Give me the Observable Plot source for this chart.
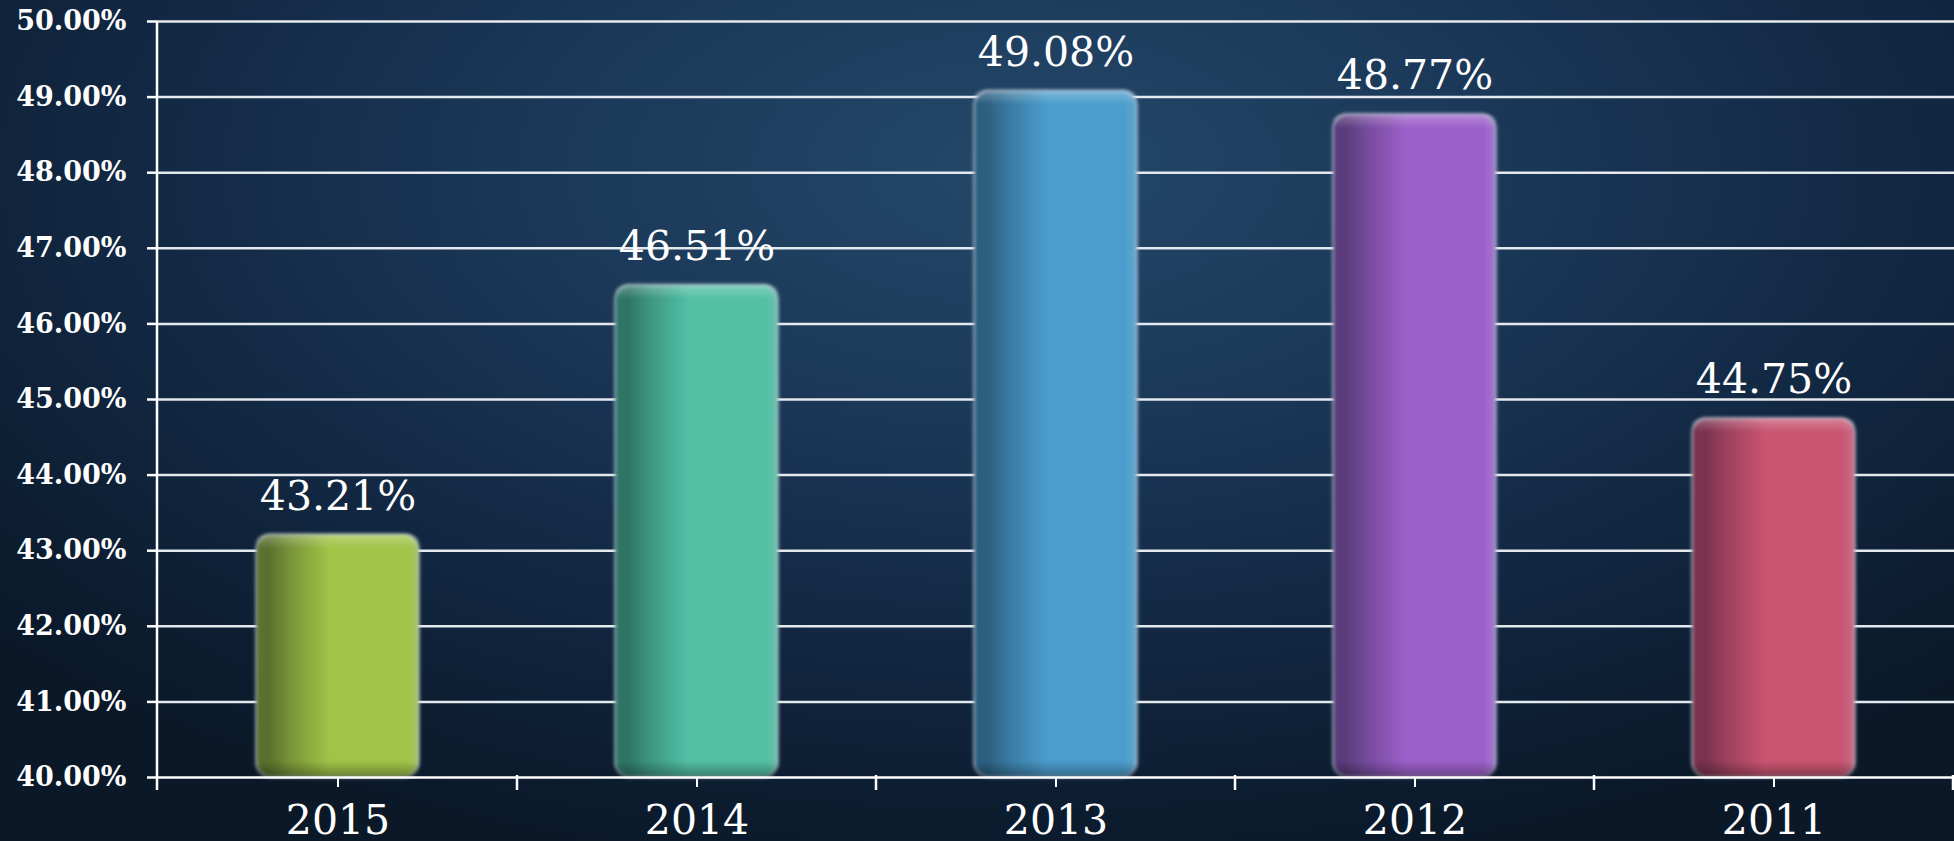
<!DOCTYPE html>
<html><head><meta charset="utf-8">
<script src="https://cdn.jsdelivr.net/npm/d3@7"></script>
<script src="https://cdn.jsdelivr.net/npm/@observablehq/plot@0.6"></script>
<style>
html,body{margin:0;padding:0;width:1954px;height:841px;overflow:hidden;}
body{background: radial-gradient(ellipse 70% 85% at 52% 20%, #244869 0%, #1b3858 35%, #122843 65%, #0a1828 100%);}
#chart svg{display:block;}
</style></head><body><div id="chart"></div>
<script>
const years = ["2015", "2014", "2013", "2012", "2011"];
const values = [43.21, 46.51, 49.08, 48.77, 44.75];
const mainColors = ["#a0c447", "#52c0a4", "#4b9dcd", "#9c60ca", "#c95472"];
const darkColors = ["#5a702d", "#2d7566", "#2c5f80", "#5a3b7c", "#7a324d"];
const yTicks = [40, 41, 42, 43, 44, 45, 46, 47, 48, 49, 50];
const yDomain = [40, 50];

const data = years.map((year, i) => ({year, value: values[i], fill: `url(#barGrad${i})`}));
const fmt = d => d.toFixed(2) + "%";
const PAD = 0.545;

const chart = Plot.plot({
  width: 1954, height: 841,
  marginLeft: 157, marginRight: 0, marginTop: 21, marginBottom: 64,
  style: {background: "transparent", color: "white", overflow: "visible"},
  x: {domain: years, paddingInner: PAD, paddingOuter: PAD / 2, label: null},
  y: {domain: yDomain, label: null},
  color: {type: "identity"},
  marks: [
    Plot.ruleY(yTicks.slice(1), {stroke: "#e4e9ee", strokeWidth: 2.5}),
    Plot.barY(data, {x: "year", y1: yDomain[0], y2: "value", fill: "fill", rx: 15, stroke: "rgba(200,212,225,0.4)", strokeWidth: 3}),
    Plot.barY(data, {x: "year", y1: "value", y2: "value", insetBottom: -14, fill: "url(#topHi)", rx: 12}),
    Plot.barY(data, {x: "year", y1: yDomain[0], y2: yDomain[0], insetTop: -16, fill: "url(#botSh)", rx: 14}),
    Plot.ruleY([yDomain[0]], {stroke: "white", strokeWidth: 2.5}),
    (index, scales, vals, dims) => {
      const x = scales.x, y = scales.y;
      const bw = x.bandwidth ? x.bandwidth() : 0;
      const step = x.step ? x.step() : 0;
      const y0 = y(yDomain[0]);
      const g = d3.create("svg:g").attr("stroke", "white").attr("stroke-width", 2.5);
      g.append("line").attr("x1", dims.marginLeft).attr("x2", dims.marginLeft)
        .attr("y1", y(yDomain[1])).attr("y2", y0 + 13);
      const bounds = years.map(yr => x(yr) + bw / 2 + step / 2);
      bounds.forEach(b => g.append("line").attr("x1", b).attr("x2", b).attr("y1", y0 - 2).attr("y2", y0 + 13));
      return g.node();
    },
    Plot.axisY({ticks: yTicks, tickSize: 10, tickPadding: 21, tickFormat: fmt, fontSize: 27,
      fontFamily: "DejaVu Serif", fontWeight: "bold", fill: "white", stroke: "white", strokeWidth: 2.5, label: null}),
    Plot.axisX({tickSize: 10, tickPadding: 17, fontSize: 41, fontFamily: "DejaVu Serif",
      fill: "white", stroke: "white", strokeWidth: 2, label: null}),
    Plot.text(data, {x: "year", y: "value", text: d => fmt(d.value), dy: -25, lineAnchor: "bottom",
      fontSize: 41, fontFamily: "DejaVu Serif", fill: "white"})
  ]
});

// defs: gradients and soft-edge filter
const svgSel = d3.select(chart);
const defs = svgSel.insert("defs", ":first-child");
mainColors.forEach((c, i) => {
  const g = defs.append("linearGradient").attr("id", `barGrad${i}`).attr("x1", 0).attr("x2", 1).attr("y1", 0).attr("y2", 0);
  const mix = d3.interpolateRgb(darkColors[i], c);
  [[0, darkColors[i]], [0.08, darkColors[i]], [0.22, mix(0.45)], [0.45, c], [0.92, c], [1, d3.interpolateRgb(c, "#b8c2cc")(0.25)]]
    .forEach(([o, col]) => g.append("stop").attr("offset", o).attr("stop-color", col));
});
const topGrad = defs.append("linearGradient").attr("id", "topHi").attr("x1", 0).attr("x2", 0).attr("y1", 0).attr("y2", 1);
topGrad.append("stop").attr("offset", 0).attr("stop-color", "white").attr("stop-opacity", 0.28);
topGrad.append("stop").attr("offset", 1).attr("stop-color", "white").attr("stop-opacity", 0);
const botGrad = defs.append("linearGradient").attr("id", "botSh").attr("x1", 0).attr("x2", 0).attr("y1", 0).attr("y2", 1);
botGrad.append("stop").attr("offset", 0).attr("stop-color", "black").attr("stop-opacity", 0);
botGrad.append("stop").attr("offset", 0.6).attr("stop-color", "black").attr("stop-opacity", 0.2);
botGrad.append("stop").attr("offset", 1).attr("stop-color", "black").attr("stop-opacity", 0.35);
const softFilter = defs.append("filter").attr("id", "soft").attr("x", "-10%").attr("y", "-10%").attr("width", "120%").attr("height", "120%");
softFilter.append("feGaussianBlur").attr("stdDeviation", 1.8);
svgSel.selectAll('g[aria-label="bar"]').attr("filter", "url(#soft)");

document.getElementById("chart").appendChild(chart);
</script>
</body></html>
